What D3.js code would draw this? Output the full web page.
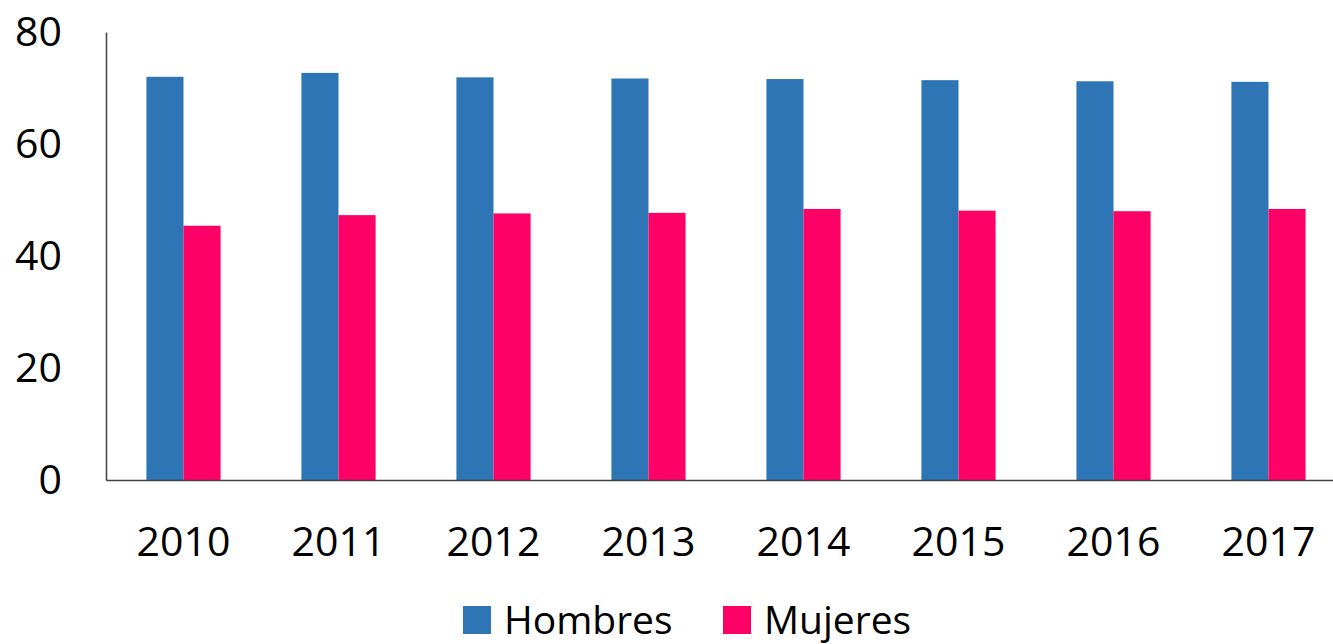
<!DOCTYPE html>
<html>
<head>
<meta charset="utf-8">
<script src="https://cdn.jsdelivr.net/npm/d3@7"></script>
<style>
  body { margin: 0; background: #fff; }
  svg { display: block; font-family: "Open Sans", sans-serif; }
</style>
</head>
<body>
<div id="chart"></div>
<script>
// data
const years = ["2010", "2011", "2012", "2013", "2014", "2015", "2016", "2017"];
const seriesNames = ["Hombres", "Mujeres"];
const hombres = [72.0, 72.7, 71.9, 71.7, 71.6, 71.4, 71.2, 71.1];
const mujeres = [45.4, 47.3, 47.6, 47.7, 48.4, 48.1, 48.0, 48.4];
const yTicks = [0, 20, 40, 60, 80];

const width = 1333, height = 644;
const margin = {top: 32, left: 106, bottom: 164};
const plotRight = 1346;
const colors = d3.scaleOrdinal().domain(seriesNames).range(["#2E75B6", "#FF0066"]);

const svg = d3.select("#chart").append("svg")
    .attr("width", width)
    .attr("height", height);

const x0 = d3.scaleBand()
    .domain(years)
    .range([margin.left, plotRight]);

// two bars per year, centred in the band
const x1 = d3.scaleBand()
    .domain(seriesNames)
    .range([0, x0.bandwidth()])
    .paddingOuter(1.09);

const y = d3.scaleLinear()
    .domain([0, 80])
    .range([height - margin.bottom, margin.top]);

const rows = years.map((yr, i) => ({year: yr, Hombres: hombres[i], Mujeres: mujeres[i]}));

// bars
svg.append("g")
  .selectAll("g")
  .data(rows)
  .join("g")
    .attr("transform", d => `translate(${x0(d.year)},0)`)
  .selectAll("rect")
  .data(d => seriesNames.map(k => ({key: k, value: d[k]})))
  .join("rect")
    .attr("x", d => x1(d.key))
    .attr("width", x1.bandwidth())
    .attr("y", d => y(d.value))
    .attr("height", d => y(0) - y(d.value))
    .attr("fill", d => colors(d.key));

// y axis
const yAxis = svg.append("g")
    .attr("transform", `translate(${margin.left},0)`)
    .call(d3.axisLeft(y).tickValues(yTicks).tickSize(0).tickPadding(44));
yAxis.select(".domain").attr("stroke", "#404040").attr("stroke-width", 1.5);
yAxis.selectAll("text").attr("font-size", 41).attr("fill", "#000")
    .attr("font-family", "'Open Sans', sans-serif");

// x axis
const xAxis = svg.append("g")
    .attr("transform", `translate(0,${y(0)})`)
    .call(d3.axisBottom(x0).tickSize(0).tickPadding(47));
xAxis.select(".domain").attr("stroke", "#404040").attr("stroke-width", 1.5);
xAxis.selectAll("text").attr("font-size", 41).attr("fill", "#000")
    .attr("font-family", "'Open Sans', sans-serif");

// legend
const legendX = [463, 723];
const legend = svg.append("g")
  .selectAll("g")
  .data(seriesNames)
  .join("g")
    .attr("transform", (d, i) => `translate(${legendX[i]},606)`);

legend.append("rect")
    .attr("width", 28)
    .attr("height", 28)
    .attr("fill", d => colors(d));

legend.append("text")
    .attr("x", 41)
    .attr("y", 28)
    .attr("font-size", 39)
    .attr("fill", "#000")
    .text(d => d);
</script>
</body>
</html>
